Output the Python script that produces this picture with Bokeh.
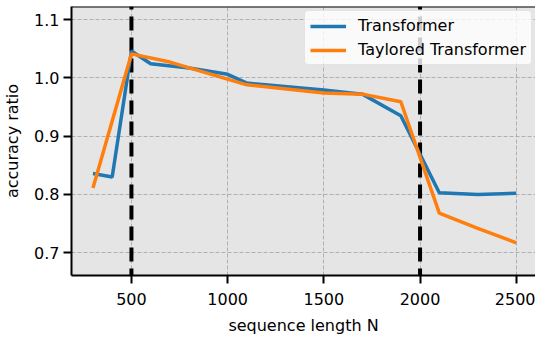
from bokeh.plotting import figure
from bokeh.models import Span, Legend, LegendItem, FixedTicker, Range1d, PrintfTickFormatter
from bokeh.embed import file_html
from bokeh.resources import INLINE

# data
seq_transformer = [300, 400, 500, 600, 800, 1000, 1100, 1500, 1700, 1900, 2100, 2300, 2500]
acc_transformer = [0.836, 0.830, 1.046, 1.024, 1.017, 1.006, 0.991, 0.979, 0.972, 0.935, 0.803, 0.800, 0.802]
seq_taylored = [300, 500, 700, 1100, 1500, 1700, 1900, 2100, 2300, 2500]
acc_taylored = [0.811, 1.041, 1.027, 0.988, 0.974, 0.972, 0.959, 0.768, 0.742, 0.717]
vlines_at = [500, 2000]
x_ticks = [500, 1000, 1500, 2000, 2500]
y_ticks = [0.7, 0.8, 0.9, 1.0, 1.1]

FONT = "DejaVu Sans"
FS = "16px"

p = figure(width=535, height=337, output_backend="svg", toolbar_location=None,
           x_range=Range1d(188.5, 2600), y_range=Range1d(0.661, 1.1223),
           min_border_left=70, min_border_right=0, min_border_top=6, min_border_bottom=62)

p.background_fill_color = "#e5e5e5"
p.border_fill_color = "white"
p.outline_line_color = None

for ax in (p.xaxis[0], p.yaxis[0]):
    ax.axis_line_color = "black"
    ax.axis_line_width = 2
    ax.major_tick_line_color = "black"
    ax.major_tick_line_width = 2
    ax.major_tick_out = 8
    ax.major_tick_in = 0
    ax.minor_tick_line_color = None
    ax.major_label_text_font = FONT
    ax.major_label_text_font_size = FS
    ax.major_label_text_color = "black"
    ax.axis_label_text_font = FONT
    ax.axis_label_text_font_size = FS
    ax.axis_label_text_font_style = "normal"
    ax.axis_label_text_color = "black"

p.xaxis.ticker = FixedTicker(ticks=x_ticks)
p.yaxis.ticker = FixedTicker(ticks=y_ticks)
p.yaxis.formatter = PrintfTickFormatter(format="%.1f")
p.xaxis.major_label_standoff = 9
p.yaxis.major_label_standoff = 4
p.xaxis.axis_label = "sequence length N"
p.yaxis.axis_label = "accuracy ratio"
p.xaxis.axis_label_standoff = 8
p.yaxis.axis_label_standoff = 9

p.grid.grid_line_color = "#b0b0b0"
p.grid.grid_line_dash = "4 2"
p.grid.grid_line_width = 1

# top spine
p.add_layout(Span(location=1.1223, dimension="width", line_color="black", line_width=2))

for xv in vlines_at:
    p.add_layout(Span(location=xv, dimension="height", line_color="black",
                      line_width=4, line_dash="14 7", line_dash_offset=11,
                      level="underlay"))

r1 = p.line(seq_transformer, acc_transformer, line_color="#1f77b4", line_width=3.5)
r2 = p.line(seq_taylored, acc_taylored, line_color="#ff7f0e", line_width=3.5)

legend = Legend(items=[LegendItem(label="Transformer", renderers=[r1]),
                       LegendItem(label="Taylored Transformer", renderers=[r2])],
                location=(233, 210))
legend.label_text_font = FONT
legend.label_text_font_size = FS
legend.label_text_color = "black"
legend.glyph_width = 36
legend.glyph_height = 18
legend.label_height = 18
legend.label_standoff = 12
legend.spacing = 5
legend.padding = 5
legend.margin = 0
legend.border_line_color = "#cccccc"
legend.border_line_width = 1
legend.border_radius = 4
legend.background_fill_color = "white"
legend.background_fill_alpha = 0.8
p.add_layout(legend, "center")

open("out.html", "w").write(file_html(p, INLINE))
